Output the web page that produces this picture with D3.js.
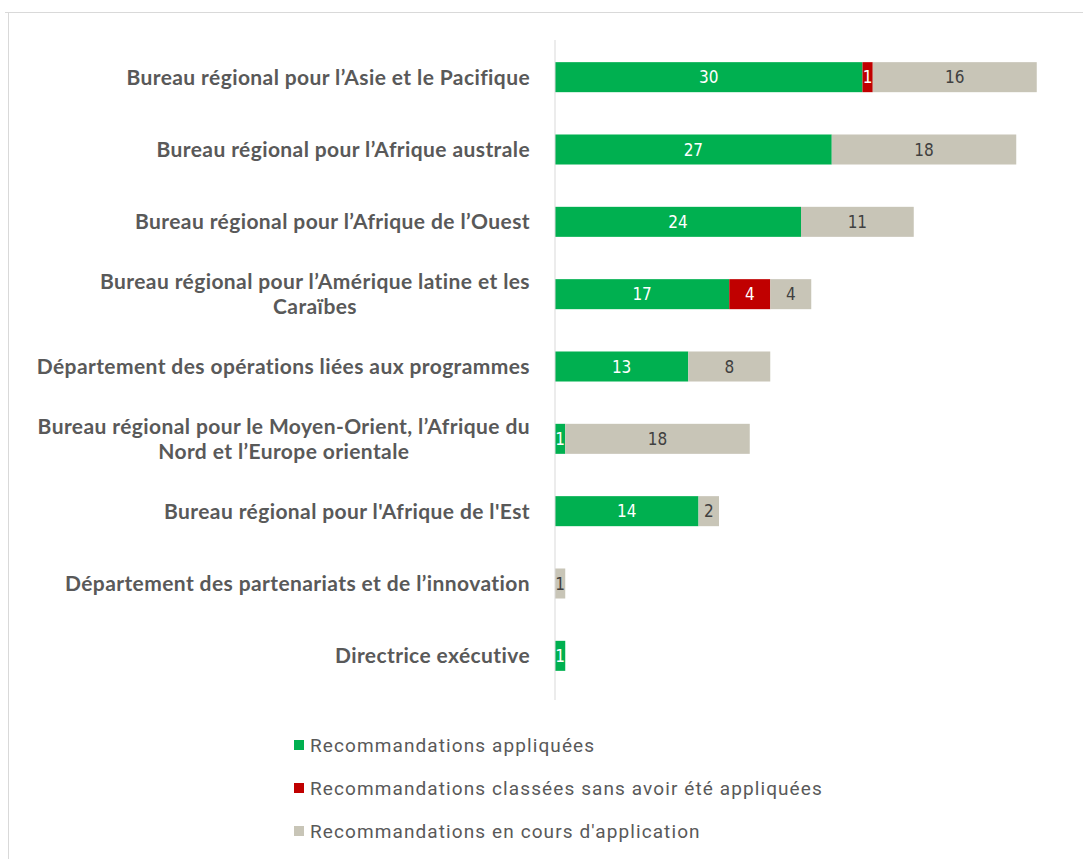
<!DOCTYPE html>
<html>
<head>
<meta charset="utf-8">
<script src="https://cdn.jsdelivr.net/npm/d3@7"></script>
<style>
  body { margin: 0; background: #fff; }
  svg { display: block; }
</style>
</head>
<body>
<svg></svg>
<script>
// data (top to bottom)
const categories = [
  "Bureau régional pour l’Asie et le Pacifique",
  "Bureau régional pour l’Afrique australe",
  "Bureau régional pour l’Afrique de l’Ouest",
  "Bureau régional pour l’Amérique latine et les\nCaraïbes",
  "Département des opérations liées aux programmes",
  "Bureau régional pour le Moyen-Orient, l’Afrique du\nNord et l’Europe orientale",
  "Bureau régional pour l'Afrique de l'Est",
  "Département des partenariats et de l’innovation",
  "Directrice exécutive"
];
const applied   = [30, 27, 24, 17, 13, 1, 14, 0, 1];
const closed    = [1, 0, 0, 4, 0, 0, 0, 0, 0];
const ongoing   = [16, 18, 11, 4, 8, 18, 2, 1, 0];
const seriesNames = [
  "Recommandations appliquées",
  "Recommandations classées sans avoir été appliquées",
  "Recommandations en cours d'application"
];
const seriesColors = ["#00b050", "#c00000", "#c8c5b7"];
const labelColors = ["#ffffff", "#ffffff", "#404040"];

const width = 1083, height = 859;
const svg = d3.select('svg').attr('width', width).attr('height', height);

// outer frame (top + left only visible)
svg.append('line').attr('x1', 5).attr('x2', width).attr('y1', 12.5).attr('y2', 12.5)
  .attr('stroke', '#d9d9d9').attr('stroke-width', 1);
svg.append('line').attr('x1', 8.5).attr('x2', 8.5).attr('y1', 12).attr('y2', height)
  .attr('stroke', '#d9d9d9').attr('stroke-width', 1);

const x = d3.scaleLinear().domain([0, 48]).range([555, 1047]);
const y = d3.scaleBand().domain(d3.range(categories.length))
  .range([41, 692]).paddingInner(0.585).paddingOuter(0.2925);

const rows = categories.map((c, i) => ({ cat: c, vals: [applied[i], closed[i], ongoing[i]] }));
const stack = d3.stack().keys([0, 1, 2]).value((d, k) => d.vals[k]);
const layers = stack(rows);

const g = svg.append('g');
layers.forEach((layer, k) => {
  const lg = g.append('g');
  const segs = layer.map((d, i) => ({ d, i })).filter(o => o.d[1] > o.d[0]);
  lg.selectAll('rect').data(segs)
    .join('rect')
    .attr('x', o => x(o.d[0]))
    .attr('y', o => y(o.i))
    .attr('width', o => x(o.d[1]) - x(o.d[0]))
    .attr('height', y.bandwidth())
    .attr('fill', seriesColors[k]);
  lg.selectAll('text').data(segs)
    .join('text')
    .attr('x', o => (x(o.d[0]) + x(o.d[1])) / 2)
    .attr('y', o => y(o.i) + y.bandwidth() / 2)
    .attr('dy', '0.36em')
    .attr('text-anchor', 'middle')
    .attr('font-family', '"Liberation Sans Narrow", "DejaVu Sans Condensed", sans-serif')
    .attr('font-size', 17)
    .attr('fill', labelColors[k])
    .text(o => o.d[1] - o.d[0]);
});

// vertical axis line
svg.append('line').attr('x1', x(0)).attr('x2', x(0)).attr('y1', 40).attr('y2', 700)
  .attr('stroke', '#d9d9d9').attr('stroke-width', 1);

// category labels: block right-aligned, lines centred within block
const labG = svg.append('g')
  .attr('font-family', 'Lato, "Open Sans", sans-serif')
  .attr('font-weight', 'bold')
  .attr('font-size', 21)
  .attr('letter-spacing', 0.4)
  .attr('fill', '#595959');
categories.forEach((c, i) => {
  const lines = c.split('\n');
  const cy = y(i) + y.bandwidth() / 2;
  const lh = 25;
  const t = labG.append('text').attr('text-anchor', 'middle');
  const spans = lines.map((ln, j) => t.append('tspan')
    .attr('y', cy + (j - (lines.length - 1) / 2) * lh)
    .attr('dy', '0.35em')
    .text(ln));
  const w = d3.max(spans, s => s.node().getComputedTextLength());
  spans.forEach(s => s.attr('x', 530 - w / 2));
});

// legend
const legY = [745, 788, 831];
const leg = svg.append('g');
seriesNames.forEach((n, k) => {
  leg.append('rect').attr('x', 294).attr('y', legY[k] - 5).attr('width', 10).attr('height', 10)
    .attr('fill', seriesColors[k]);
  leg.append('text').attr('x', 310).attr('y', legY[k]).attr('dy', '0.35em')
    .attr('font-family', 'Roboto, sans-serif').attr('font-size', 19)
    .attr('letter-spacing', 1.1)
    .attr('fill', '#595959').text(n);
});
</script>
</body>
</html>
